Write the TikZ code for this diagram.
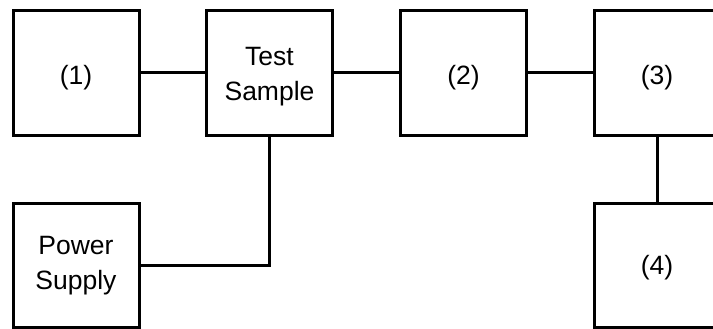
\documentclass[tikz,border=0pt]{standalone}
\usepackage{fontspec}
\setmainfont{Liberation Sans}
\begin{document}
\begin{tikzpicture}[x=1pt,y=-1pt,
  blk/.style={draw=black,line width=3pt,minimum width=126pt,minimum height=124pt,inner sep=0pt},
  txt/.style={align=center,inner sep=0pt,font=\fontsize{26.5}{35}\selectfont},
  wire/.style={draw=black,line width=3pt}]
\useasboundingbox (0,0) rectangle (713,329);
\node[blk,label={[txt,yshift=-4.5pt]center:(1)}] (one) at (76,73) {};
\node[blk,label={[txt,yshift=-3.5pt]center:{Test\\Sample}}] (ts) at (269.5,73) {};
\node[blk,label={[txt,yshift=-4.5pt]center:(2)}] (two) at (463.5,73) {};
\node[blk,label={[txt,yshift=-4.5pt]center:(3)}] (three) at (657,73) {};
\node[blk,label={[txt,yshift=-1pt]center:{Power\\Supply}}] (ps) at (76,265) {};
\node[blk,label={[txt,yshift=-2.5pt]center:(4)}] (four) at (657,265) {};
\draw[wire] (one) -- (ts);
\draw[wire] (ts) -- (two);
\draw[wire] (two) -- (three);
\draw[wire] (three) -- (four);
\draw[wire] (ts.south) |- (ps.east);
\end{tikzpicture}
\end{document}
